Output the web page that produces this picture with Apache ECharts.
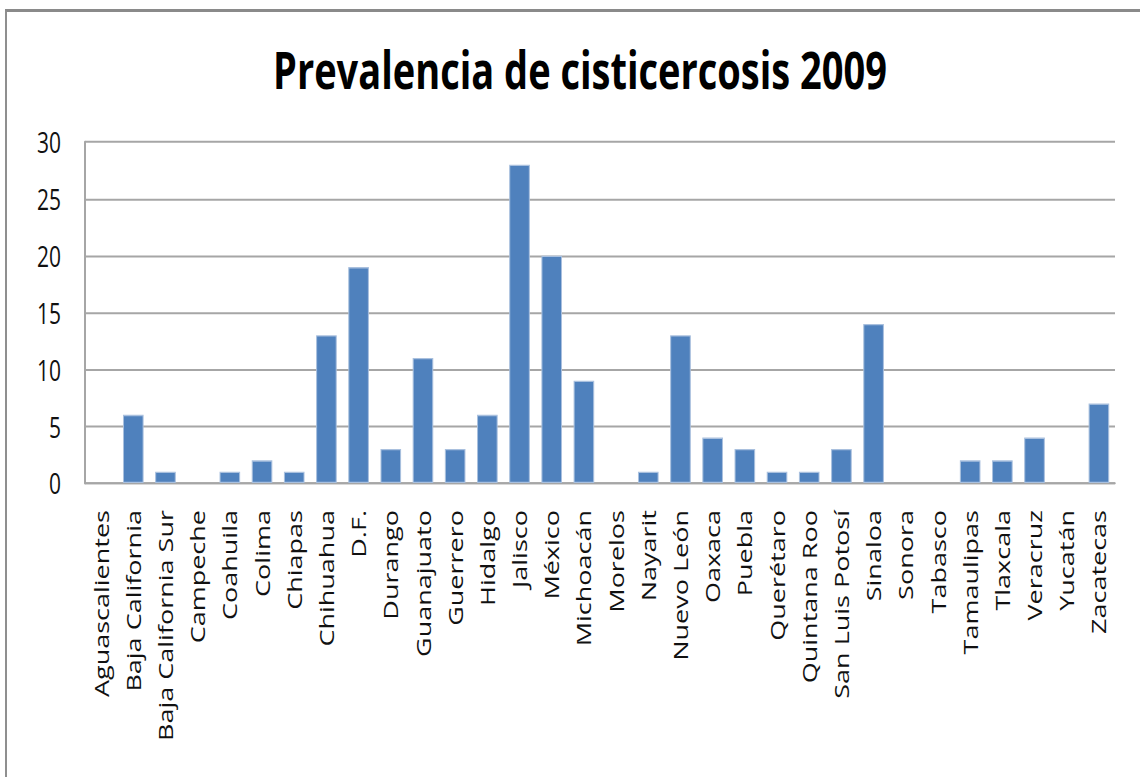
<!DOCTYPE html>
<html>
<head>
<meta charset="utf-8">
<script src="https://cdn.jsdelivr.net/npm/echarts@6/dist/echarts.min.js"></script>
<style>
  html, body { margin: 0; padding: 0; background: #ffffff; }
  body { width: 1140px; height: 777px; overflow: hidden; position: relative; }
  #frame { position: absolute; left: 5px; top: 9px; width: 1300px; height: 900px;
           border-top: 3px solid #8a8a8a; border-left: 2px solid #8f8f8f; box-sizing: border-box; }
  #chart { position: absolute; left: 0; top: 0; width: 1140px; height: 576px;
           transform: scaleY(1.35); transform-origin: 0 0; }
</style>
</head>
<body>
<div id="frame"></div>
<div id="chart"></div>
<script>
const titleText = 'Prevalencia de cisticercosis 2009';
const categories = ['Aguascalientes','Baja California','Baja California Sur','Campeche','Coahuila','Colima','Chiapas','Chihuahua','D.F.','Durango','Guanajuato','Guerrero','Hidalgo','Jalisco','México','Michoacán','Morelos','Nayarit','Nuevo León','Oaxaca','Puebla','Querétaro','Quintana Roo','San Luis Potosí','Sinaloa','Sonora','Tabasco','Tamaulipas','Tlaxcala','Veracruz','Yucatán','Zacatecas'];
const values = [0,6,1,0,1,2,1,13,19,3,11,3,6,28,20,9,0,1,13,4,3,1,1,3,14,0,0,2,2,4,0,7];
const yMin = 0, yMax = 30, yStep = 5;

const barData = values.map(v => v === 0 ? { value: v, itemStyle: { borderWidth: 0 } } : v);

const chart = echarts.init(document.getElementById('chart'), null, { renderer: 'svg' });
chart.setOption({
  animation: false,
  backgroundColor: 'transparent',
  title: {
    text: titleText,
    left: 575, textAlign: 'center',
    top: 27,
    textStyle: { fontFamily: 'Open Sans', fontWeight: 'bold', fontSize: 38, color: '#000000' }
  },
  grid: { left: 85, right: 25, top: 105.2, bottom: 218.2, containLabel: false },
  xAxis: {
    type: 'category',
    data: categories,
    axisLine: { show: true, lineStyle: { color: '#a6a6a6', width: 1.5 } },
    axisTick: { show: false },
    axisLabel: { interval: 0, rotate: 90, margin: 20, fontFamily: 'Open Sans', fontSize: 20, color: '#111111' }
  },
  yAxis: {
    type: 'value',
    min: yMin, max: yMax, interval: yStep,
    axisLine: { show: true, lineStyle: { color: '#a6a6a6', width: 2 } },
    axisTick: { show: false },
    axisLabel: { margin: 24, fontFamily: 'Open Sans', fontSize: 21, color: '#111111' },
    splitLine: { show: true, lineStyle: { color: '#a6a6a6', width: 1.5 } }
  },
  series: [{
    type: 'bar',
    data: barData,
    barCategoryGap: '36%',
    itemStyle: { color: '#4f81bd', borderColor: '#a9c0de', borderWidth: 1 }
  }]
});
</script>
</body>
</html>
